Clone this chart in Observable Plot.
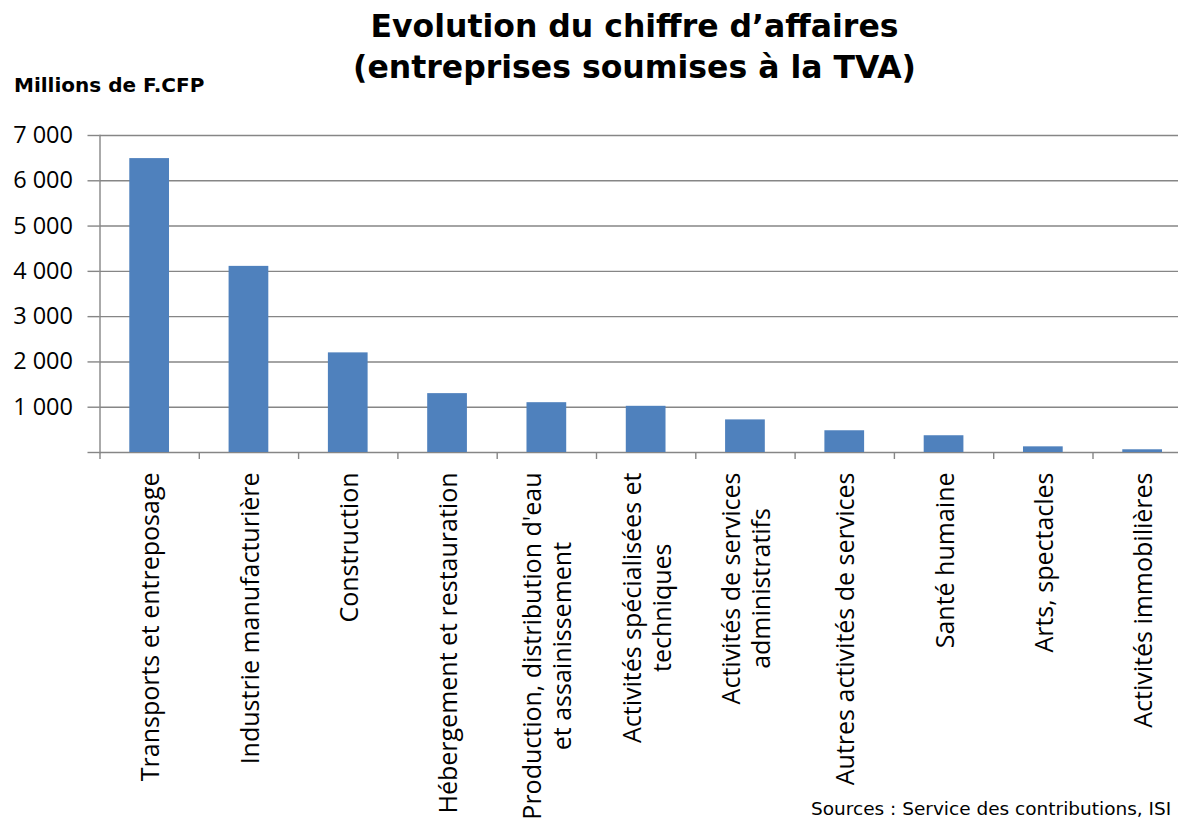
<!DOCTYPE html>
<html>
<head>
<meta charset="utf-8">
<script src="https://cdn.jsdelivr.net/npm/d3@7"></script>
<script src="https://cdn.jsdelivr.net/npm/@observablehq/plot@0.6"></script>
<style>
  html, body { margin: 0; padding: 0; background: #fff; overflow: hidden; }
  #wrap { position: relative; width: 1178px; height: 824px; }
  #title { position: absolute; left: 0; top: 6px; width: 1269px; text-align: center;
           font: bold 31.5px "DejaVu Sans"; line-height: 40.5px; color: #000; white-space: nowrap; }
  #unit { position: absolute; left: 14px; top: 75px; font: bold 20px "DejaVu Sans"; line-height: 20px; color: #000; white-space: nowrap; }
  #source { position: absolute; left: 811px; top: 800px; font: 18.5px "DejaVu Sans"; line-height: 18px; color: #000; white-space: nowrap; }
  #chart { position: absolute; left: 0; top: 0; }
</style>
</head>
<body>
<div id="wrap">
  <div id="chart"></div>
  <div id="title">Evolution du chiffre d’affaires<br>(entreprises soumises à la TVA)</div>
  <div id="unit">Millions de F.CFP</div>
  <div id="source">Sources : Service des contributions, ISI</div>
</div>
<script>
const categories = [
  "Transports et entreposage",
  "Industrie manufacturière",
  "Construction",
  "Hébergement et restauration",
  "Production, distribution d'eau\net assainissement",
  "Activités spécialisées et\ntechniques",
  "Activités de services\nadministratifs",
  "Autres activités de services",
  "Santé humaine",
  "Arts, spectacles",
  "Activités immobilières"
];
const values = [6490, 4110, 2200, 1300, 1100, 1020, 720, 480, 370, 125, 60];
const yTicks = [0, 1000, 2000, 3000, 4000, 5000, 6000, 7000];

const data = categories.map((c, i) => ({category: c, value: values[i]}));

const W = 1178, H = 824;
const mTop = 135, mBottom = 372, mLeft = 99.5;
const step = 99.3;
const frameH = H - mTop - mBottom;
const gridColor = "#868686";
const fmt = d => d === 0 ? "" : d3.format(",")(d).replace(/,/g, "\u00a0");

const ctx = document.createElement("canvas").getContext("2d");
const labelSize = 25;
ctx.font = `${labelSize}px "Open Sans"`;

const labelMarks = categories.map(c => {
  const lines = c.split("\n");
  const len = d3.max(lines, l => ctx.measureText(l).width);
  return Plot.text([c], {
    x: d => d,
    text: d => d,
    frameAnchor: "bottom",
    rotate: -90,
    textAnchor: "middle",
    lineAnchor: "middle",
    lineHeight: 1.2,
    dy: 20 + len / 2,
    fontSize: labelSize,
    fontFamily: "Open Sans",
    fill: "#000"
  });
});

const chart = Plot.plot({
  width: W,
  height: H,
  marginLeft: mLeft,
  marginRight: 0,
  marginTop: mTop,
  marginBottom: mBottom,
  style: {fontFamily: "Open Sans", color: "#000", background: "transparent", overflow: "visible"},
  x: {domain: categories, range: [mLeft, mLeft + categories.length * step], paddingInner: 0.6, paddingOuter: 0.3, round: false, axis: null},
  y: {domain: [0, 7000], axis: null},
  marks: [
    Plot.ruleY(yTicks, {stroke: gridColor, strokeWidth: 1.4}),
    Plot.barY(data, {x: "category", y: "value", fill: "#4F81BD"}),
    Plot.frame({anchor: "left", stroke: gridColor, strokeWidth: 1.4}),
    Plot.ruleX(categories, {x: d => d, dx: -step / 2, insetTop: frameH, insetBottom: -7, stroke: gridColor, strokeWidth: 1.4}),
    Plot.axisY({ticks: yTicks, tickSize: 12, tickPadding: 15, tickFormat: fmt, label: null, stroke: gridColor, strokeWidth: 1.4, fontSize: 23.5, fill: "#000"}),
    ...labelMarks
  ]
});
document.getElementById("chart").appendChild(chart);
</script>
</body>
</html>
